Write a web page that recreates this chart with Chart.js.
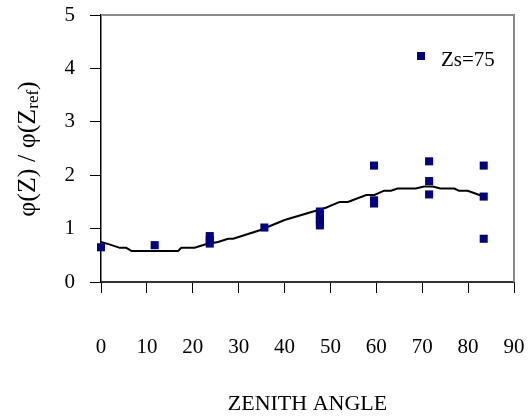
<!DOCTYPE html>
<html>
<head>
<meta charset="utf-8">
<script src="https://cdn.jsdelivr.net/npm/chart.js@4"></script>
<style>
  html, body { margin: 0; padding: 0; background: #fff; }
  #wrap { width: 528px; height: 417px; position: relative; }
</style>
</head>
<body>
<div id="wrap"><canvas id="chart"></canvas></div>
<script>
// measured points (zenith angle, ratio)
const pointAngles = [0, 11.7, 23.7, 23.7, 23.7, 35.6, 47.7, 47.7, 47.7, 47.7, 47.7,
  59.5, 59.5, 59.5, 71.5, 71.5, 71.5, 83.4, 83.4, 83.4];
const pointRatios = [0.65, 0.69, 0.86, 0.79, 0.72, 1.02, 1.32, 1.25, 1.18, 1.12, 1.06,
  2.18, 1.53, 1.47, 2.26, 1.89, 1.64, 2.18, 1.60, 0.81];

// model curve
const curveAngles = [0, 2, 4.1, 5.5, 6.7, 16.8, 17.5, 20.4, 23, 25.5, 27.7, 28.8,
  34.6, 40, 49, 52, 53.8, 57.8, 59.6, 61.7, 63.2, 64.6, 68.6, 70.4, 72.3, 74,
  77, 78, 79.9, 83.4];
const curveRatios = [0.75, 0.70, 0.64, 0.64, 0.58, 0.58, 0.64, 0.64, 0.71, 0.75, 0.81, 0.81,
  0.97, 1.16, 1.39, 1.50, 1.50, 1.63, 1.63, 1.71, 1.71, 1.75, 1.75, 1.79, 1.79, 1.75,
  1.75, 1.71, 1.71, 1.60];

const xTicks = [0, 10, 20, 30, 40, 50, 60, 70, 80, 90];
const yTicks = [0, 1, 2, 3, 4, 5];
const seriesName = 'Zs=75';

const SERIF = "'Liberation Serif', 'Times New Roman', serif";
const NAVY = '#000080';

const toXY = (xs, ys) => xs.map((x, i) => ({ x, y: ys[i] }));

// gray frame on top/right, legend, rotated y title with subscript
const extras = {
  id: 'extras',
  afterDraw(chart) {
    const { ctx, chartArea: a } = chart;
    ctx.save();
    ctx.strokeStyle = '#8a8a8a';
    ctx.lineWidth = 2;
    ctx.beginPath();
    ctx.moveTo(a.left, a.top);
    ctx.lineTo(a.right, a.top);
    ctx.lineTo(a.right, a.bottom);
    ctx.stroke();

    // legend
    ctx.fillStyle = NAVY;
    ctx.fillRect(417, 52, 8, 8);
    ctx.fillStyle = '#000';
    ctx.font = '21px ' + SERIF;
    ctx.textBaseline = 'middle';
    ctx.textAlign = 'left';
    ctx.fillText(seriesName, 441, 60);

    // y title
    const big = '26px ' + SERIF, small = '17px ' + SERIF;
    const parts = [['φ(Z) / φ(Z', big, 0], ['ref', small, 6], [')', big, 0]];
    let total = 0;
    parts.forEach(p => { ctx.font = p[1]; total += ctx.measureText(p[0]).width; });
    ctx.translate(28, 149);
    ctx.rotate(-Math.PI / 2);
    let x = -total / 2;
    parts.forEach(p => {
      ctx.font = p[1];
      ctx.fillText(p[0], x, p[2]);
      x += ctx.measureText(p[0]).width;
    });
    ctx.restore();
  }
};

new Chart(document.getElementById('chart'), {
  type: 'scatter',
  data: {
    datasets: [
      {
        label: seriesName,
        data: toXY(pointAngles, pointRatios),
        backgroundColor: NAVY,
        borderColor: NAVY,
        pointStyle: 'rect',
        pointRadius: 5.7,
        borderWidth: 0,
        clip: false,
        order: 0
      },
      {
        label: 'model',
        data: toXY(curveAngles, curveRatios),
        showLine: true,
        borderColor: '#000',
        borderWidth: 2,
        pointRadius: 0,
        tension: 0,
        order: 1
      }
    ]
  },
  options: {
    responsive: true,
    maintainAspectRatio: false,
    animation: false,
    layout: { padding: { top: 15, right: 14, left: 0, bottom: 0 } },
    plugins: { legend: { display: false }, tooltip: { enabled: false } },
    scales: {
      x: {
        type: 'linear',
        min: 0,
        max: 90,
        afterBuildTicks: s => { s.ticks = xTicks.map(v => ({ value: v })); },
        afterFit: s => { s.height = 135; s.paddingLeft = 0; s.paddingRight = 0; },
        border: { display: true, color: '#333', width: 2 },
        grid: { drawOnChartArea: false, drawTicks: true, tickLength: 11, color: '#000' },
        ticks: { color: '#000', padding: 42, maxRotation: 0, font: { family: SERIF, size: 21 } },
        title: {
          display: true, text: 'ZENITH ANGLE', color: '#000',
          padding: { top: 0, bottom: 0 }, font: { family: SERIF, size: 22 }
        }
      },
      y: {
        type: 'linear',
        min: 0,
        max: 5,
        afterBuildTicks: s => { s.ticks = yTicks.map(v => ({ value: v })); },
        afterFit: s => { s.width = 101; s.paddingTop = 0; s.paddingBottom = 0; },
        border: { display: true, color: '#000', width: 1.5 },
        grid: { drawOnChartArea: false, drawTicks: true, tickLength: 11, color: '#000' },
        ticks: { color: '#000', padding: 15, font: { family: SERIF, size: 21 } }
      }
    }
  },
  plugins: [extras]
});
</script>
</body>
</html>
